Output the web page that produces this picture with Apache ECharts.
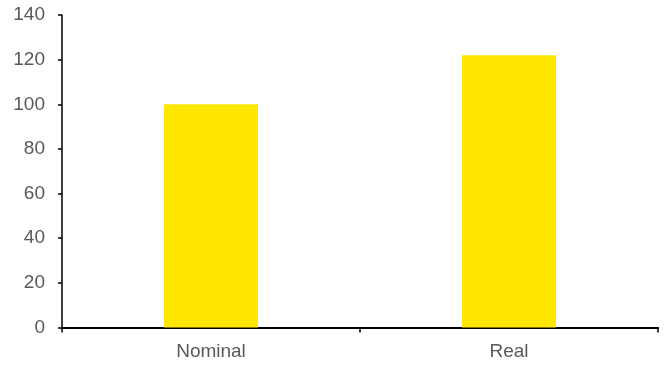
<!DOCTYPE html>
<html>
<head>
<meta charset="utf-8">
<script src="https://cdn.jsdelivr.net/npm/echarts@6/dist/echarts.min.js"></script>
<style>
  html, body { margin: 0; padding: 0; background: #fff; }
  #chart { width: 665px; height: 365px; }
</style>
</head>
<body>
<div id="chart"></div>
<script>
// Categories and their values
const categories = ['Nominal', 'Real'];
const values = [100, 122];
// Y axis range
const yMin = 0;
const yMax = 140;
const yStep = 20;

const chart = echarts.init(document.getElementById('chart'), null, { renderer: 'canvas' });

const labelColor = '#595959';
const labelFamily = "'Liberation Sans', Arial, sans-serif";
const labelSize = 19;

chart.setOption({
  animation: false,
  backgroundColor: '#ffffff',
  grid: { left: 62, right: 7, top: 15, bottom: 37.5, containLabel: false },
  xAxis: {
    type: 'category',
    data: categories,
    boundaryGap: true,
    axisLine: { lineStyle: { color: '#000', width: 2 } },
    axisTick: { show: true, length: 5, lineStyle: { color: '#000', width: 1.5 } },
    axisLabel: { margin: 15, color: labelColor, fontFamily: labelFamily, fontSize: labelSize },
    splitLine: { show: false }
  },
  yAxis: {
    type: 'value',
    min: yMin,
    max: yMax,
    interval: yStep,
    axisLine: { show: true, lineStyle: { color: '#000', width: 1.5 } },
    axisTick: { show: true, length: 4, lineStyle: { color: '#000', width: 1.5 } },
    axisLabel: { margin: 17, color: labelColor, fontFamily: labelFamily, fontSize: labelSize },
    splitLine: { show: false }
  },
  series: [{
    type: 'bar',
    data: values,
    barWidth: 94,
    itemStyle: { color: '#FFE600' }
  }]
});
</script>
</body>
</html>
